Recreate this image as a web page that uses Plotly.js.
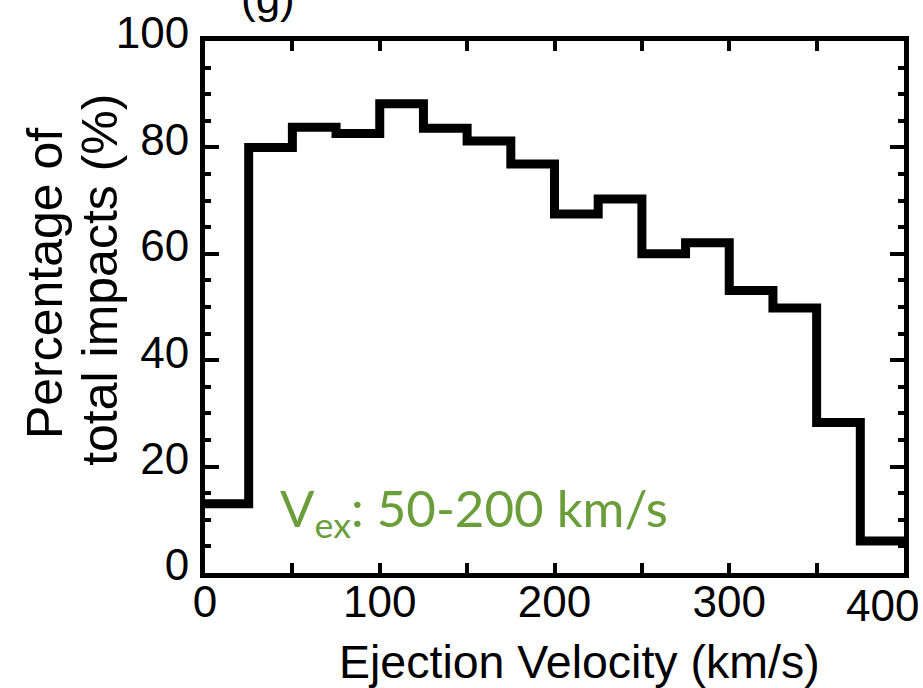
<!DOCTYPE html>
<html>
<head>
<meta charset="utf-8">
<script src="https://cdn.plot.ly/plotly-3.0.1.min.js"></script>
<style>html,body{margin:0;padding:0;background:#fff;}#chart{width:923px;height:688px;}</style>
</head>
<body>
<div id="chart"></div>
<script>
// Bin edges (km/s) and percentage of total impacts per bin
const binEdges = [0, 25, 50, 75, 100, 125, 150, 175, 200, 225, 250, 275, 300, 325, 350, 375, 400];
const percentImpacts = [13, 80, 83.8, 82.6, 88.2, 83.6, 81.2, 76.9, 67.5, 70.3, 60, 62.1, 53.1, 49.8, 28.3, 6];

const xTickVals = [0, 100, 200, 300, 400];
const xTickText = ['0', '100', '200', '300', '400'];
const yTickVals = [0, 20, 40, 60, 80, 100];
const yTickText = ['0', '20', '40', '60', '80', '100'];

const xTitle = 'Ejection Velocity (km/s)';
const yTitleLines = ['Percentage of', 'total impacts (%)'];
const panelLabel = '(g)';
const noteText = 'V<sub>ex</sub>: 50-200 km/s';

// step trace: repeat last value so the final bin is drawn to the right edge
const stepY = percentImpacts.concat([percentImpacts[percentImpacts.length - 1]]);

const FONT = 'Liberation Sans, Arial, sans-serif';
const tickFont = {family: FONT, size: 44, color: '#000'};

const lastX = xTickVals[xTickVals.length - 1];
const lastXText = xTickText[xTickText.length - 1];

const trace = {
  x: binEdges,
  y: stepY,
  type: 'scatter',
  mode: 'lines',
  line: {shape: 'hv', color: '#000', width: 9},
  hoverinfo: 'skip',
  cliponaxis: true
};

const layout = {
  width: 923,
  height: 688,
  margin: {l: 205, r: 19, t: 41, b: 115, pad: 0},
  paper_bgcolor: '#fff',
  plot_bgcolor: '#fff',
  showlegend: false,
  xaxis: {
    range: [0, 400],
    tickmode: 'array',
    tickvals: xTickVals.slice(0, -1),
    ticktext: xTickText.slice(0, -1),
    ticks: 'inside',
    ticklen: 10,
    tickwidth: 4,
    tickcolor: '#000',
    minor: {dtick: 50, tick0: 0, ticks: 'inside', ticklen: 10, tickwidth: 4, tickcolor: '#000', showgrid: false},
    showline: true,
    linewidth: 5,
    linecolor: '#000',
    mirror: 'ticks',
    showgrid: false,
    zeroline: false,
    tickfont: tickFont,
    ticklabelstandoff: -14
  },
  yaxis: {
    range: [0, 100],
    tickmode: 'array',
    tickvals: yTickVals,
    ticktext: yTickText,
    ticks: 'inside',
    ticklen: 14,
    tickwidth: 4,
    tickcolor: '#000',
    minor: {dtick: 5, ticks: 'inside', ticklen: 6, tickwidth: 4, tickcolor: '#000', showgrid: false},
    showline: true,
    linewidth: 5,
    linecolor: '#000',
    mirror: 'ticks',
    showgrid: false,
    zeroline: false,
    tickfont: tickFont,
    ticklabelshift: -8,
    ticklabelstandoff: 2
  },
  annotations: [
    {
      text: lastXText, xref: 'x', yref: 'paper', x: lastX, y: 0,
      xanchor: 'center', yanchor: 'top', xshift: -22, yshift: -6,
      showarrow: false, font: tickFont
    },
    {
      text: xTitle, xref: 'paper', yref: 'paper', x: 0.536, y: 0,
      xanchor: 'center', yanchor: 'middle', yshift: -89,
      showarrow: false, font: {family: FONT, size: 46.5, color: '#000'}
    },
    {
      text: yTitleLines[0], xref: 'paper', yref: 'paper', x: 0, y: 0.543,
      xanchor: 'center', yanchor: 'middle', xshift: -160, textangle: -90,
      showarrow: false, font: {family: FONT, size: 50, color: '#000'}
    },
    {
      text: yTitleLines[1], xref: 'paper', yref: 'paper', x: 0, y: 0.551,
      xanchor: 'center', yanchor: 'middle', xshift: -105, textangle: -90,
      showarrow: false, font: {family: FONT, size: 50, color: '#000'}
    },
    {
      text: panelLabel, xref: 'paper', yref: 'paper', x: 0.09, y: 1,
      xanchor: 'center', yanchor: 'bottom', yshift: 17,
      showarrow: false, font: {family: FONT, size: 44, color: '#000'}
    },
    {
      text: noteText, xref: 'paper', yref: 'paper', x: 0.104, y: 0.1165,
      xanchor: 'left', yanchor: 'middle',
      showarrow: false, font: {family: 'Lato, Open Sans, sans-serif', size: 51, color: '#6a9e3a'}
    }
  ]
};

Plotly.newPlot('chart', [trace], layout, {displayModeBar: false, staticPlot: true});
</script>
</body>
</html>
